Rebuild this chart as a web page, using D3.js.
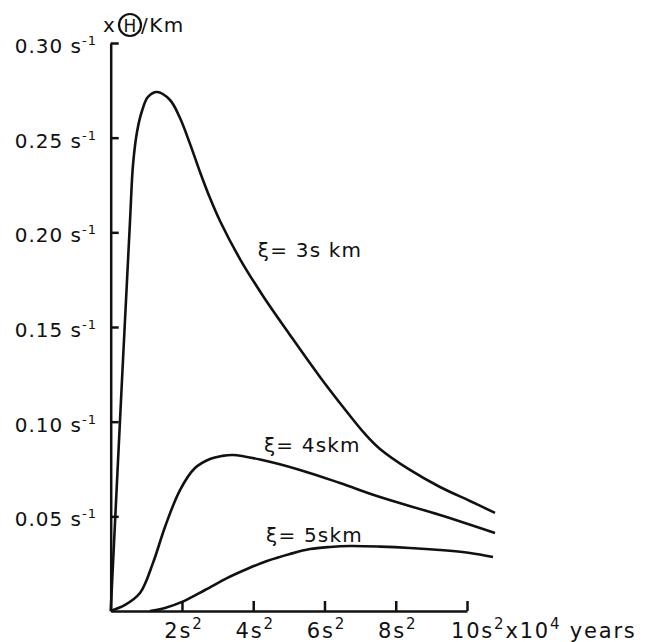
<!DOCTYPE html>
<html>
<head>
<meta charset="utf-8">
<script src="https://cdn.jsdelivr.net/npm/d3@7"></script>
<style>
  body { margin: 0; background: #fff; }
  svg text { font-family: "DejaVu Sans", sans-serif; fill: #111; }
</style>
</head>
<body>
<div id="chart"></div>
<script>
// tick values
const yTicks = [0.05, 0.10, 0.15, 0.20, 0.25, 0.30];
const yTickLabels = ["0.05", "0.10", "0.15", "0.20", "0.25", "0.30"];
const xTicks = [2, 4, 6, 8, 10];
const xTickLabels = ["2", "4", "6", "8", "10"];

// curves (x in s^2 x 10^4 years, y in s^-1)
const s3x = [0, 0.317, 0.542, 0.626, 0.738, 0.878, 1.047, 1.299, 1.664, 1.945, 2.226, 2.506, 2.787, 3.068, 3.629, 4.275, 5.032, 5.874, 6.632, 7.137, 7.558, 8.40, 9.242, 10.084, 10.786];
const s3y = [0, 0.122, 0.206, 0.2356, 0.253, 0.2641, 0.2715, 0.2741, 0.2699, 0.2604, 0.2467, 0.2319, 0.2181, 0.2060, 0.1859, 0.1664, 0.1458, 0.1236, 0.1051, 0.0935, 0.0856, 0.0745, 0.0655, 0.0581, 0.0518];
const s4x = [0, 0.401, 0.822, 1.187, 1.524, 1.945, 2.366, 2.787, 3.124, 3.433, 4.191, 5.313, 6.435, 7.558, 9.242, 10.786];
const s4y = [0, 0.0032, 0.0095, 0.0254, 0.0444, 0.0639, 0.0755, 0.0803, 0.0819, 0.0824, 0.0800, 0.0745, 0.0676, 0.0602, 0.0507, 0.0412];
const s5x = [1.103, 1.524, 2.001, 2.647, 3.264, 3.825, 4.387, 5.032, 5.593, 6.155, 6.716, 7.558, 8.40, 9.242, 10.084, 10.73];
const s5y = [0, 0.0016, 0.0048, 0.0111, 0.0174, 0.0222, 0.0264, 0.0301, 0.0327, 0.0338, 0.0343, 0.0340, 0.0333, 0.0322, 0.0306, 0.0285];
const curveNames = ["3s km", "4skm", "5skm"];

const svg = d3.select("#chart").append("svg")
    .attr("width", 656)
    .attr("height", 642);

const x = d3.scaleLinear().domain([0, 10]).range([110.7, 467]);
const y = d3.scaleLinear().domain([0, 0.3]).range([611, 43]);

// y axis, ticks point inward
svg.append("g")
    .attr("transform", "translate(" + x(0) + ",0)")
    .call(d3.axisLeft(y).tickValues(yTicks).tickSizeInner(-8).tickSizeOuter(0).tickFormat(""));

// x axis, ticks point up
svg.append("g")
    .attr("transform", "translate(0," + y(0) + ")")
    .call(d3.axisBottom(x).tickValues(xTicks).tickSizeInner(-10).tickSizeOuter(0).tickFormat(""));

svg.selectAll(".domain, .tick line")
    .attr("stroke", "#111")
    .attr("stroke-width", 2.5);

// y tick labels
const yl = svg.append("g").selectAll("text")
    .data(yTicks)
    .join("text")
    .attr("x", 97)
    .attr("y", d => y(d) + 10)
    .attr("text-anchor", "end")
    .attr("font-size", 20)
    .attr("letter-spacing", 1);
yl.append("tspan").text((d, i) => yTickLabels[i] + " s");
yl.append("tspan").attr("dy", -8).attr("font-size", 13).text("-1");

// x tick labels
const xl = svg.append("g").selectAll("text")
    .data(xTicks)
    .join("text")
    .attr("x", d => d === 10 ? x(d) - 16 : x(d) + 2)
    .attr("y", 638)
    .attr("text-anchor", d => d === 10 ? "start" : "middle")
    .attr("font-size", 21)
    .attr("letter-spacing", 1.8);
xl.append("tspan").text((d, i) => xTickLabels[i] + "s");
xl.append("tspan").attr("dy", -9).attr("font-size", 15).text("2");
const last = xl.filter(d => d === 10);
last.append("tspan").attr("dy", 9).text("x10");
last.append("tspan").attr("dy", -9).attr("font-size", 15).text("4");
last.append("tspan").attr("dy", 9).text(" years");

// unit label at top of y axis
svg.append("text").attr("x", 103).attr("y", 32).attr("font-size", 20).text("x");
svg.append("circle").attr("cx", 130).attr("cy", 25).attr("r", 11)
    .attr("fill", "none").attr("stroke", "#111").attr("stroke-width", 2.2);
svg.append("text").attr("x", 130).attr("y", 31.5).attr("font-size", 17)
    .attr("text-anchor", "middle").text("H");
svg.append("text").attr("x", 141).attr("y", 32).attr("font-size", 20)
    .attr("letter-spacing", 1.5).text("/Km");

// curves
const line = d3.line()
    .x(d => x(d[0]))
    .y(d => y(d[1]))
    .curve(d3.curveCatmullRom.alpha(0.5));

const series = [
  d3.zip(s3x, s3y),
  d3.zip(s4x, s4y),
  d3.zip(s5x, s5y)
];

svg.append("g").selectAll("path")
    .data(series)
    .join("path")
    .attr("d", line)
    .attr("fill", "none")
    .attr("stroke", "#111")
    .attr("stroke-width", 2.6)
    .attr("stroke-linejoin", "round");

// curve labels
const labelPos = [[4.13, 0.187], [4.3, 0.084], [4.36, 0.0365]];
svg.append("g").selectAll("text")
    .data(curveNames)
    .join("text")
    .attr("x", (d, i) => x(labelPos[i][0]))
    .attr("y", (d, i) => y(labelPos[i][1]))
    .attr("font-size", 20)
    .attr("letter-spacing", 1.2)
    .text(d => "ξ= " + d);
</script>
</body>
</html>
